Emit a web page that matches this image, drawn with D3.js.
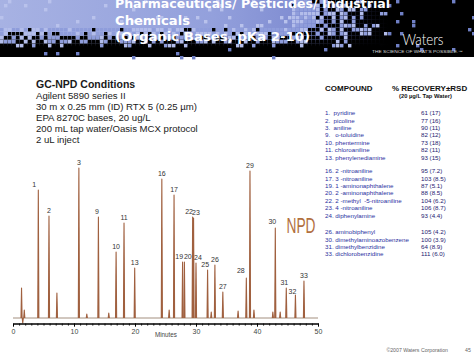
<!DOCTYPE html>
<html><head><meta charset="utf-8">
<script src="https://cdn.jsdelivr.net/npm/d3@7"></script>
<style>html,body{margin:0;padding:0;background:#fff;overflow:hidden}svg{display:block}</style>
</head><body>
<svg id="c" width="474" height="356"></svg>
<script>
// ---------- data ----------
const titleLines = ["Pharmaceuticals/ Pesticides/ Industrial", "Chemicals", "(Organic Bases, pKa 2-10)"];
const conditionTitle = "GC-NPD Conditions";
const conditionLines = ["Agilent 5890 series II", "30 m x 0.25 mm (ID) RTX 5 (0.25 \u00b5m)", "EPA 8270C bases, 20 ug/L", "200 mL tap water/Oasis MCX protocol", "2 uL inject"];

const peakTime   = [1.4,1.6,1.85,4.15,5.9,7.2,10.8,12.1,14.0,15.7,16.9,18.2,19.95,24.4,25.6,26.4,27.8,28.1,29.45,29.6,30.0,31.9,32.5,33.1,34.4,36.9,38.25,38.85,39.5,42.6,43.0,43.8,44.8,46.3,47.7];
const peakHeight = [30,-5,8,128,102,25,150,4,101,5,66,95,50,139,8,123,56,56,101,100,55,48,6,53,26,7,40,147,8,6,90,6,30,23,37];
const peakLabel  = ["","","","1","2","","3","","9","","10","11","13","16","","17","19","20","22","23","24","25","","26","27","","28","29","","","30","","31","32","33"];

const xTicks = [0,10,20,30,40,50];
const xMinor = d3.range(0, 51, 1);

const compoundNames = ["1.  pyridine","2.  picoline","3.  aniline","9.   o-toluidine","10. phentermine","11. chloroaniline","13. phenylenediamine",
  "16. 2 -nitroaniline","17. 3 -nitroaniline","19. 1 -aminonaphthalene","20. 2 -aminonaphthalene","22. 2 -methyl  -5-nitroaniline","23. 4 -nitroaniline","24. diphenylamine",
  "26. aminobiphenyl","30. dimethylaminoazobenzene","31. dimethylbenzidine","33. dichlorobenzidine"];
const recoveryValues = ["61 (17)","77 (16)","90 (11)","82 (12)","73 (18)","82 (11)","93 (15)",
  "95 (7.2)","103 (8.5)","87 (5.1)","88 (8.5)","104 (6.2)","106 (8.7)","93 (4.4)",
  "105 (4.2)","100 (3.9)","64 (8.9)","111 (6.0)"];
const compoundGroup = [0,0,0,0,0,0,0,1,1,1,1,1,1,1,2,2,2,2];

// ---------- layout ----------
const svg = d3.select("#c");
const W = 474, HH = 57;

// header background
const defs = svg.append("defs");
const g1 = defs.append("linearGradient").attr("id","hg").attr("x1","0").attr("x2","1").attr("y1","0").attr("y2","0");
[[0,"#a7b2e3"],[0.45,"#93a0dc"],[0.66,"#7d8ad0"],[0.76,"#1a1d33"],[0.82,"#000"]].forEach(([o,c])=>g1.append("stop").attr("offset",o).attr("stop-color",c));
const g2 = defs.append("linearGradient").attr("id","vg").attr("x1","0").attr("x2","0").attr("y1","0").attr("y2","1");
[[0,"#000",0],[0.6,"#000",0],[0.82,"#000",1],[1,"#000",1]].forEach(([o,c,a])=>g2.append("stop").attr("offset",o).attr("stop-color",c).attr("stop-opacity",a));
svg.append("rect").attr("x",0).attr("y",0).attr("width",W).attr("height",HH).attr("fill","url(#hg)");
svg.append("rect").attr("x",0).attr("y",0).attr("width",W).attr("height",HH).attr("fill","url(#vg)");

// decorative mosaic
const hash = (i,j)=>{const s=Math.sin(i*12.9898+j*78.233)*43758.5453;return s-Math.floor(s);};
const cell = 4, cells = [];
for (let i=0;i<Math.ceil(W/cell);i++) for (let j=0;j<Math.ceil(HH/cell);j++){
  const cx=i*cell, cy=j*cell;
  const px=Math.max(0,Math.min(1,(cx-290)/100)), py=Math.max(0,Math.min(1,(cy-26)/22));
  const p=1-(1-px)*(1-py);
  const r=hash(i,j);
  if (p>0.02 && p<0.98){ cells.push({x:cx,y:cy,c: r<p ? "#000" : (hash(j,i)<0.5?"#8f9ddb":"#b3bdea")}); }
  else if (p<=0.02 && hash(i+7,j+3)<0.06) cells.push({x:cx,y:cy,c:"#b9c2ec"});
  else if (p>=0.98 && hash(i+3,j+9)<0.03) cells.push({x:cx,y:cy,c:"#6f7fc4"});
}
svg.append("g").selectAll("rect").data(cells).join("rect")
  .attr("x",d=>d.x).attr("y",d=>d.y).attr("width",cell-0.6).attr("height",cell-0.6).attr("fill",d=>d.c);

// title
svg.append("g").selectAll("text").data(titleLines).join("text")
  .attr("x",115).attr("y",(d,i)=>[8,24.5,41][i])
  .attr("font-family","DejaVu Sans").attr("font-weight","bold").attr("font-size",13)
  .attr("fill","#fff")
  .attr("textLength",(d,i)=>[275,75,195][i]).attr("lengthAdjust","spacingAndGlyphs")
  .text(d=>d);

// Waters logo
svg.append("text").attr("x",423).attr("y",45).attr("text-anchor","middle")
  .attr("font-family","Lato, sans-serif").attr("font-weight",300).attr("font-size",15)
  .attr("fill","#fff").attr("textLength",41).attr("lengthAdjust","spacingAndGlyphs").text("Waters");
svg.append("text").attr("x",372).attr("y",52.5)
  .attr("font-family","Liberation Sans, Arial").attr("font-size",3.4)
  .attr("fill","#ddd").attr("textLength",91).attr("lengthAdjust","spacingAndGlyphs").text("THE SCIENCE OF WHAT'S POSSIBLE.\u2122");

// conditions block
svg.append("text").attr("x",36).attr("y",87.7)
  .attr("font-family","Liberation Sans, Arial").attr("font-weight","bold").attr("font-size",10.5)
  .attr("fill","#1a1a1a").text(conditionTitle);
svg.append("g").selectAll("text").data(conditionLines).join("text")
  .attr("x",36).attr("y",(d,i)=>99+i*11.1)
  .attr("font-family","Liberation Sans, Arial").attr("font-size",9.6)
  .attr("fill","#222").text(d=>d);

// table
const tf = "Liberation Sans, Arial";
svg.append("text").attr("x",325).attr("y",91).attr("font-family",tf).attr("font-weight","bold").attr("font-size",8).attr("fill","#111").text("COMPOUND");
svg.append("text").attr("x",392).attr("y",91).attr("font-family",tf).attr("font-weight","bold").attr("font-size",8).attr("fill","#111").text("% RECOVERY\u00b1RSD");
svg.append("text").attr("x",399).attr("y",98).attr("font-family",tf).attr("font-weight","bold").attr("font-size",5.8).attr("fill","#111").text("(20 \u00b5g/L Tap Water)");
const groupStart = [115.2, 173.2, 234.2], rowH = 7.4;
const rowIdx = compoundGroup.map((g,i)=>i - compoundGroup.indexOf(g));
svg.append("g").selectAll("text").data(compoundNames).join("text")
  .attr("x",325).attr("y",(d,i)=>groupStart[compoundGroup[i]]+rowIdx[i]*rowH)
  .attr("font-family",tf).attr("font-size",6.2).attr("fill","#2b2fa0")
  .style("white-space","pre").text(d=>d);
svg.append("g").selectAll("text").data(recoveryValues).join("text")
  .attr("x",421).attr("y",(d,i)=>groupStart[compoundGroup[i]]+rowIdx[i]*rowH)
  .attr("font-family",tf).attr("font-size",6.2).attr("fill","#1d2070")
  .text(d=>d);

// chromatogram
const x = d3.scaleLinear().domain([0,50]).range([13,318]);
const y = d3.scaleLinear().domain([0,155]).range([318,163]);
const chart = svg.append("g");
const line = d3.line().x(d=>x(d[0])).y(d=>y(d[1]));
chart.append("path").attr("d",line([[0,0],[50,0]])).attr("fill","none").attr("stroke","#a38f7e").attr("stroke-width",1);
const hw = 0.09;
chart.append("g").selectAll("path").data(peakTime).join("path")
  .attr("d",(t,i)=>line([[t-hw,0],[t,peakHeight[i]],[t+hw,0]]))
  .attr("fill","#a0603f").attr("stroke","#a0603f").attr("stroke-width",1.1).attr("stroke-linejoin","round");

// peak labels
const labelDx = {"1":-4,"9":-1.5,"19":-3.4,"20":3.4,"22":-3.6,"23":2.4,"24":2,"25":-2.4,"28":-5.5,"30":-3,"31":-2,"32":-3};
const labelDy = {"28":-2,"30":-1,"32":2};
const labeled = peakTime.map((t,i)=>({t, h:peakHeight[i], lab:peakLabel[i]})).filter(d=>d.lab!=="");
chart.append("g").selectAll("text").data(labeled).join("text")
  .attr("x",d=>x(d.t)+(labelDx[d.lab]||0))
  .attr("y",d=>y(d.h)-3+(labelDy[d.lab]||0))
  .attr("text-anchor","middle").attr("font-family","Liberation Sans, Arial").attr("font-size",7)
  .attr("fill","#333").text(d=>d.lab);

// NPD label (condensed via horizontal scale)
svg.append("text").attr("transform","translate(286.5,233) scale(0.625,1)")
  .attr("font-family","Liberation Sans, Arial").attr("font-size",22)
  .attr("fill","#b2703f").text("NPD");

// axis
const axisG = svg.append("g").attr("transform","translate(0,323.5)");
axisG.call(d3.axisBottom(x).tickValues(xMinor).tickSize(2.2).tickSizeOuter(0).tickFormat(""));
axisG.select(".domain").attr("stroke","#000").attr("stroke-width",1.6);
axisG.selectAll(".tick line").attr("stroke","#000").attr("stroke-width",0.8);
const axisM = svg.append("g").attr("transform","translate(0,323.5)");
axisM.call(d3.axisBottom(x).tickValues(xTicks).tickSize(3.2).tickSizeOuter(0).tickPadding(2.5));
axisM.select(".domain").remove();
axisM.selectAll(".tick line").attr("stroke","#000").attr("stroke-width",1);
axisM.selectAll(".tick text").attr("font-family","Liberation Sans, Arial").attr("font-size",7).attr("fill","#444");
svg.append("text").attr("x",166).attr("y",336.5).attr("text-anchor","middle")
  .attr("font-family","Liberation Sans, Arial").attr("font-size",6.3).attr("fill","#444").text("Minutes");

// footer
svg.append("text").attr("x",448).attr("y",352).attr("text-anchor","end")
  .attr("font-family","Liberation Sans, Arial").attr("font-size",5.2).attr("fill","#666").text("\u00a92007 Waters Corporation");
svg.append("text").attr("x",465).attr("y",352)
  .attr("font-family","Liberation Sans, Arial").attr("font-size",5.2).attr("fill","#666").text("45");
</script>
</body></html>
